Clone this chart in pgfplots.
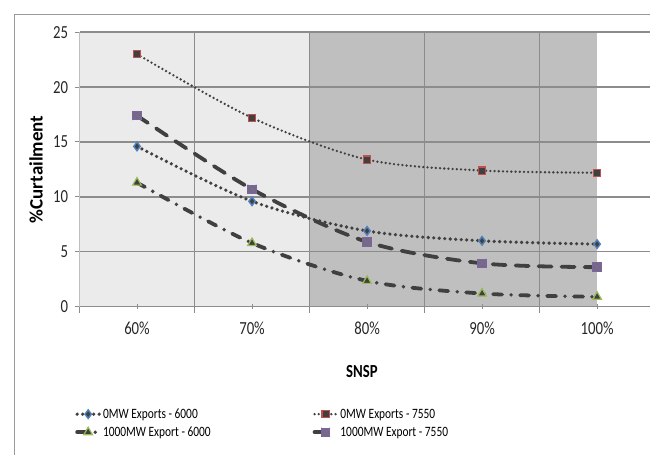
\documentclass[border=0pt]{standalone}
\usepackage{fontspec}
\setmainfont{Carlito}[FakeStretch=0.8]
\newfontfamily\labfont{Carlito}
\usepackage{pgfplots}
\pgfplotsset{compat=1.18}
\definecolor{lineC}{HTML}{404040}
\definecolor{gridC}{HTML}{8C8C8C}
\definecolor{lightbg}{HTML}{EBEBEB}
\definecolor{darkbg}{HTML}{BFBFBF}
\definecolor{blueM}{HTML}{4F81BD}
\definecolor{redM}{HTML}{C0504D}
\definecolor{greenM}{HTML}{9BBB59}
\definecolor{purpleM}{HTML}{8064A2}
\definecolor{boxF}{HTML}{6E6E78}
\pgfdeclareplotmark{boxx}{%
  \pgfpathrectangle{\pgfpoint{-\pgfplotmarksize}{-\pgfplotmarksize}}{\pgfpoint{2\pgfplotmarksize}{2\pgfplotmarksize}}%
  \pgfusepathqfillstroke
  \pgfpathmoveto{\pgfpoint{-\pgfplotmarksize}{-\pgfplotmarksize}}%
  \pgfpathlineto{\pgfpoint{\pgfplotmarksize}{\pgfplotmarksize}}%
  \pgfpathmoveto{\pgfpoint{-\pgfplotmarksize}{\pgfplotmarksize}}%
  \pgfpathlineto{\pgfpoint{\pgfplotmarksize}{-\pgfplotmarksize}}%
  \pgfusepathqstroke}
\begin{document}
\begin{tikzpicture}
\draw[gray!80, line width=1bp] (14bp,0bp) -- (14bp,440.5bp) -- (650bp,440.5bp);
\begin{axis}[
  set layers=standard,
  at={(79.5bp,148.3bp)}, anchor=south west,
  scale only axis, width=570.5bp, height=274.5bp,
  xmin=0.5, xmax=5.46, ymin=0, ymax=25,
  xtick={1,2,3,4,5},
  xticklabels={60\%,70\%,80\%,90\%,100\%},
  minor xtick={0.5,1.5,2.5,3.5,4.5},
  ytick={0,5,...,25},
  axis x line*=bottom, axis y line*=left,
  x axis line style={-, draw=gridC, line width=1.3bp},
  y axis line style={-, draw=darkbg, line width=1.3bp},
  tick align=outside,
  major tick length=5bp, minor tick length=6bp,
  tick style={draw=gridC, line width=1bp},
  major x tick style={yshift=3bp},
  ymajorgrids, xminorgrids,
  grid style={draw=gridC, line width=1.4bp},
  minor grid style={draw=gridC, line width=1.4bp},
  /pgf/number format/assume math mode=true,
  ticklabel style={font=\fontsize{18.5}{18.5}\selectfont, text=black!85},
  xticklabel style={yshift=-7bp},
  yticklabel style={xshift=-3bp},
  xlabel={SNSP},
  ylabel={\labfont\bfseries\%Curtailment},
  xlabel style={at={(axis description cs:0.495,-0.236)}, anchor=center, font=\fontsize{18.5}{18.5}\selectfont\bfseries},
  ylabel style={at={(axis description cs:-0.076,0.5)}, anchor=center, font=\fontsize{19}{19}\selectfont},
  legend columns=2,
  legend cell align=left,
  legend style={at={(axis description cs:-0.013,-0.356)}, anchor=north west, draw=none, fill=none,
    font=\fontsize{14.3}{14.3}\selectfont, row sep=3bp,
    /tikz/column 2/.style={column sep=100bp}},
  legend image code/.code={\draw[mark repeat=2,mark phase=2] plot coordinates {(0bp,0bp) (11bp,0bp) (22bp,0bp)};},
]
\addplot[fill=lightbg, draw=none, sharp plot, forget plot, on layer=axis background]
  coordinates {(0.5,25) (2.5,25)} \closedcycle;
\addplot[fill=darkbg, draw=none, sharp plot, forget plot, on layer=axis background]
  coordinates {(2.5,25) (5,25)} \closedcycle;

\addplot[smooth, tension=0.5, lineC, line width=3.6bp, line cap=round, dash pattern=on 0bp off 5.5bp,
  mark=diamond*, mark size=4.3bp, mark options={solid, fill=lineC, draw=blueM, line width=1.4bp}]
  coordinates {(1,14.6) (2,9.6) (3,6.9) (4,6.0) (5,5.7)};
\addlegendentry{0MW Exports - 6000}

\addplot[smooth, tension=0.5, lineC, line width=2.6bp, line cap=round, dash pattern=on 0bp off 4.2bp,
  mark=square*, mark size=3.6bp, mark options={solid, fill=lineC, draw=redM, line width=1.2bp}]
  coordinates {(1,23.0) (2,17.2) (3,13.4) (4,12.4) (5,12.2)};
\addlegendentry{0MW Exports - 7550}

\addplot[smooth, tension=0.5, lineC, line width=3.8bp, line cap=round, dash pattern=on 9bp off 9bp on 0bp off 9bp,
  mark=triangle*, mark size=5bp, mark options={solid, fill=lineC, draw=greenM, line width=1.2bp}]
  coordinates {(1,11.3) (2,5.8) (3,2.35) (4,1.2) (5,0.9)};
\addlegendentry{1000MW Export - 6000}

\addplot[smooth, tension=0.5, lineC, line width=3.8bp, line cap=round, dash pattern=on 13bp off 10bp,
  mark=boxx, mark size=4.2bp, mark options={solid, fill=boxF, draw=purpleM, line width=1bp}]
  coordinates {(1,17.4) (2,10.7) (3,5.9) (4,3.95) (5,3.6)};
\addlegendentry{1000MW Export - 7550}
\end{axis}
\pgfresetboundingbox
\useasboundingbox (0,0) rectangle (650bp,455bp);
\end{tikzpicture}
\end{document}
